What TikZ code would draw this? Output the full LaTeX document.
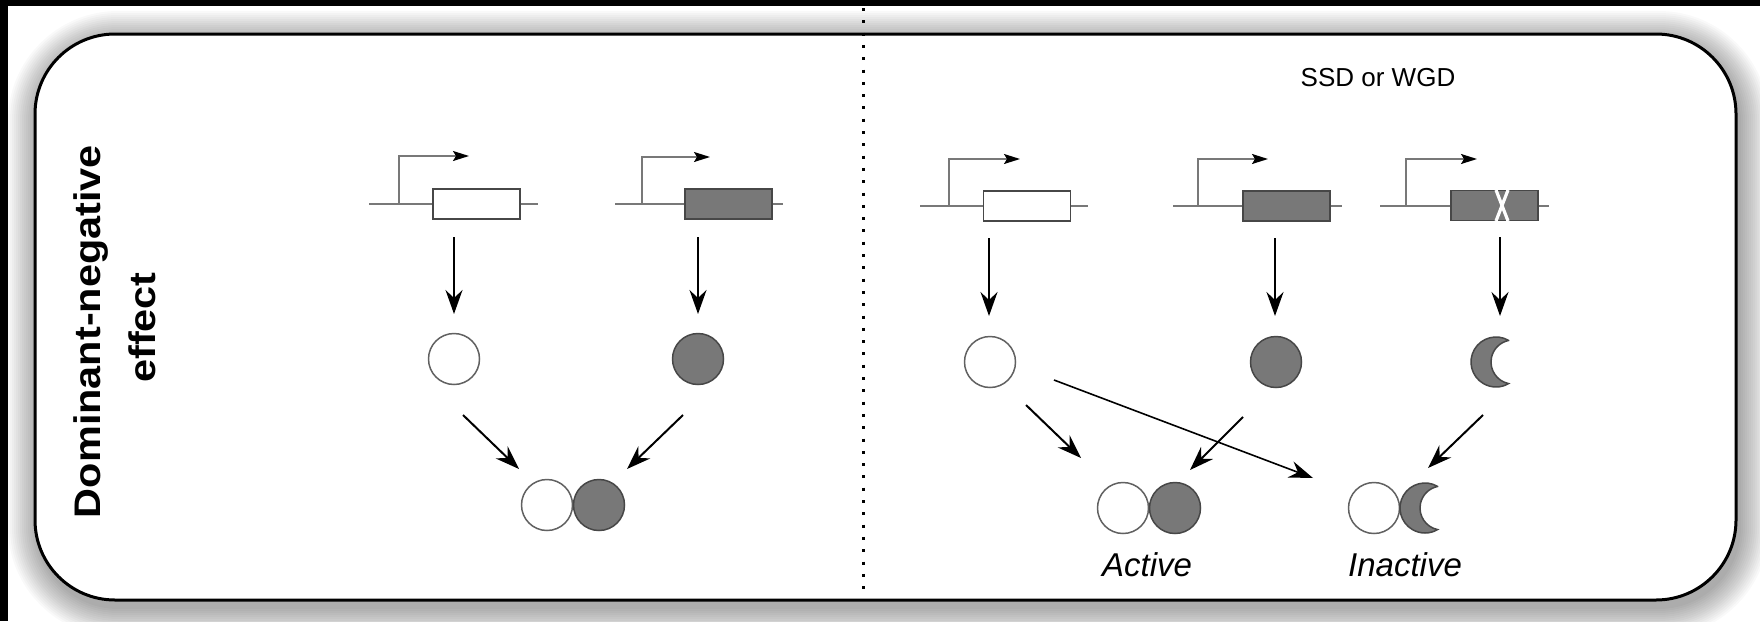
\documentclass[tikz,border=0pt]{standalone}
\usepackage{fontspec}
\usepackage{graphicx}
\setmainfont{Liberation Sans}
\usetikzlibrary{arrows.meta}

\definecolor{protgray}{gray}{0.47}
\definecolor{dnagray}{gray}{0.47}
\definecolor{edgegray}{gray}{0.28}
\definecolor{ringgray}{gray}{0.38}

\tikzset{
  dnaline/.style={draw=dnagray, line width=1pt},
  promoarrow/.style={draw=dnagray, line width=0.8pt,
    -{Stealth[length=8pt,width=5pt,inset=1.5pt,color=black]}},
  genebox/.style={rectangle, draw=edgegray, line width=0.9pt,
    minimum width=43.5pt, minimum height=15pt, inner sep=0pt},
  bigarrow/.style={draw=black, line width=1pt,
    -{Stealth[length=12pt,width=8.5pt,inset=4pt]}},
  thinarrow/.style={draw=black, line width=0.8pt,
    -{Stealth[length=12pt,width=8.5pt,inset=4pt]}},
  wcirc/.style={circle, draw=ringgray, fill=white, line width=0.75pt,
    minimum size=25.5pt, inner sep=0pt},
  gcirc/.style={circle, draw=edgegray, fill=protgray, line width=0.75pt,
    minimum size=25.5pt, inner sep=0pt},
  crescent/.style={draw=edgegray, fill=protgray, line width=0.75pt},
  panelframe/.style={draw=black, line width=1.5pt, fill=white,
    rounded corners=40pt},
  dotline/.style={draw=black, line width=1.5pt,
    dash pattern=on 1.5pt off 4.65pt},
  sidelabel/.style={rotate=90, anchor=base,
    font=\bfseries\fontsize{18.5pt}{21pt}\selectfont},
}

% gene: name, centre x, centre y, fill, left end, right end,
% promoter x, promoter top, promoter tip x
\newcommand{\drawgene}[9]{%
  \coordinate (#1-l) at (#5,#3);
  \coordinate (#1-r) at (#6,#3);
  \coordinate (#1-p) at (#7,#3);
  \coordinate (#1-k) at (#7,#8);
  \coordinate (#1-t) at (#9,#8);
  \draw[dnaline] (#1-l) -- (#1-r);
  \node[genebox, fill=#4] (#1) at (#2,#3) {};
  \draw[promoarrow] (#1-p) -- (#1-k) -- (#1-t);
}

% crescent-shaped protein: name, centre x, centre y
\newcommand{\drawcrescent}[3]{%
  \begin{scope}[shift={(#2,#3)}]
    \coordinate (#1) at (0,0);
    \filldraw[crescent] (12.61,-21.59)
      arc[start angle=-59.7, end angle=-300.3, radius=25]
      arc[start angle=101.5, end angle=258.5, radius=22] -- cycle;
  \end{scope}
}

\begin{document}
\begin{tikzpicture}[x=0.5pt, y=-0.5pt]
\useasboundingbox (0,0) rectangle (1760,621);
\fill[white] (0,0) rectangle (1760,621);

% soft drop shadow of the panel
\foreach \e in {2,4,...,30} {
  \pgfmathsetmacro\rr{40+0.5*\e}
  \fill[black, opacity=0.022, rounded corners=\rr pt]
    (35-\e+3, 34-\e+7) rectangle (1736+\e+3, 600+\e+7);
}

% dark edges
\fill[black] (0,0) rectangle (1760,5.5);
\fill[black] (0,0) rectangle (8,621);

% panel
\draw[panelframe] (35,34) rectangle (1736,600);

% separator
\coordinate (sepT) at (863,8);
\coordinate (sepB) at (863,592);
\draw[dotline] (sepT) -- (sepB);

% labels
\node[sidelabel] (dn1) at (100,331.5) {\scalebox{1.12}[1]{Dominant-negative}};
\node[sidelabel] (dn2) at (155,327.5) {\scalebox{1.12}[1]{effect}};
\node[font=\fontsize{13pt}{15pt}\selectfont] (ssd) at (1378,78) {SSD or WGD};
\node[font=\itshape\fontsize{16.5pt}{18pt}\selectfont] (act) at (1147,565) {Active};
\node[font=\itshape\fontsize{16.5pt}{18pt}\selectfont] (inact) at (1405,565) {Inactive};

% genes, left panel
\drawgene{gL1}{476.5}{204}{white}{369}{538}{399}{156}{469}
\drawgene{gL2}{728.5}{204}{protgray}{615}{783}{642}{157}{710}
% genes, right panel
\drawgene{gR1}{1027}{206}{white}{920}{1088}{949}{159}{1020}
\drawgene{gR2}{1286.5}{206}{protgray}{1173}{1342}{1198}{159}{1268}
\drawgene{gR3}{1494.5}{205.5}{protgray}{1380}{1549}{1406}{159}{1477}
% disrupted copy
\draw[white, line width=1.6pt] (1496,190) -- (1508,221);
\draw[white, line width=1.6pt] (1508,190) -- (1496,221);

% proteins, left panel
\node[wcirc] (pL1) at (454,359) {};
\node[gcirc] (pL2) at (698,359) {};
\node[wcirc] (dLa) at (547,505) {};
\node[gcirc] (dLb) at (599,505) {};

% proteins, right panel
\node[wcirc] (pR1) at (990,362) {};
\node[gcirc] (pR2) at (1276,362) {};
\drawcrescent{pR3}{1496}{362}
\node[wcirc] (dAa) at (1123,508) {};
\node[gcirc] (dAb) at (1175,508) {};
\node[wcirc] (dIa) at (1374,508) {};
\drawcrescent{dIb}{1425}{508}

% arrows, left panel
\coordinate (tL1s) at (454,237);  \coordinate (tL1e) at (454,314);
\coordinate (tL2s) at (698,237);  \coordinate (tL2e) at (698,314);
\coordinate (cL1s) at (463,415);  \coordinate (cL1e) at (519,469);
\coordinate (cL2s) at (683,415);  \coordinate (cL2e) at (627,469);
\draw[bigarrow] (tL1s) -- (tL1e);
\draw[bigarrow] (tL2s) -- (tL2e);
\draw[bigarrow] (cL1s) -- (cL1e);
\draw[bigarrow] (cL2s) -- (cL2e);

% arrows, right panel
\coordinate (tR1s) at (989,238);   \coordinate (tR1e) at (989,316);
\coordinate (tR2s) at (1275,238);  \coordinate (tR2e) at (1275,316);
\coordinate (tR3s) at (1500,237);  \coordinate (tR3e) at (1500,316);
\coordinate (cR1s) at (1026,405);  \coordinate (cR1e) at (1081,458);
\coordinate (cR2s) at (1054,380);  \coordinate (cR2e) at (1313,478);
\coordinate (cR3s) at (1243,417);  \coordinate (cR3e) at (1190,470);
\coordinate (cR4s) at (1483,415);  \coordinate (cR4e) at (1428,468);
\draw[bigarrow] (tR1s) -- (tR1e);
\draw[bigarrow] (tR2s) -- (tR2e);
\draw[bigarrow] (tR3s) -- (tR3e);
\draw[bigarrow] (cR1s) -- (cR1e);
\draw[thinarrow] (cR2s) -- (cR2e);
\draw[bigarrow] (cR3s) -- (cR3e);
\draw[bigarrow] (cR4s) -- (cR4e);
\end{tikzpicture}
\end{document}
